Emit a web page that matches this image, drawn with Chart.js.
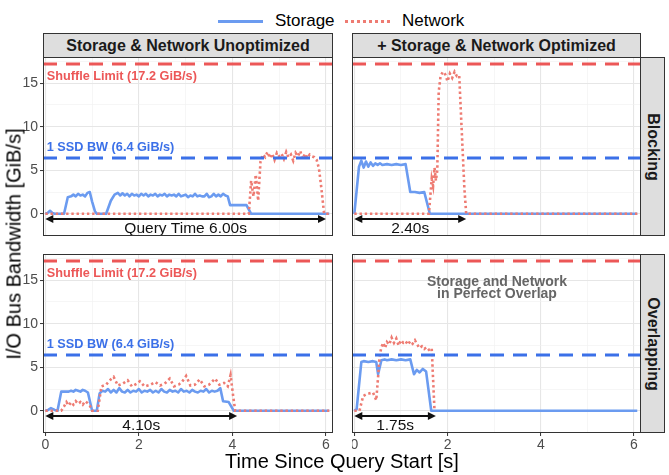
<!DOCTYPE html>
<html>
<head>
<meta charset="utf-8">
<script src="https://cdn.jsdelivr.net/npm/chart.js@4.4.1/dist/chart.umd.min.js"></script>
<style>
  body { margin: 0; background: #fff; font-family: "Liberation Sans", Arial, sans-serif; }
  #fig { position: relative; width: 669px; height: 475px; overflow: hidden; }
  .box { position: absolute; }
  .strip { position: absolute; background: #dedede; border: 1px solid #333; box-sizing: border-box;
           font-weight: bold; font-size: 16px; color: #1a1a1a; text-align: center; }
  .lbl { position: absolute; white-space: nowrap; }
</style>
</head>
<body>
<div id="fig">
  <!-- legend -->
  <div class="lbl" style="left:218px; top:20px; width:45px; border-top:3.5px solid #6b9bf0;"></div>
  <div class="lbl" style="left:275px; top:11px; font-size:17px;">Storage</div>
  <div class="lbl" style="left:345px; top:20px; width:45px; border-top:3px dotted #ee7b72;"></div>
  <div class="lbl" style="left:402px; top:11px; font-size:17px;">Network</div>

  <!-- column strips -->
  <div class="strip" style="left:43px; top:33px; width:290px; height:25px; line-height:23px;">Storage &amp; Network Unoptimized</div>
  <div class="strip" style="left:352px; top:33px; width:289px; height:25px; line-height:23px;">+ Storage &amp; Network Optimized</div>
  <!-- row strips -->
  <div class="strip" style="left:640px; top:57px; width:25px; height:179px;">
    <div style="position:absolute; left:50%; top:50%; transform:translate(-50%,-50%) rotate(90deg);">Blocking</div>
  </div>
  <div class="strip" style="left:640px; top:254px; width:25px; height:179px;">
    <div style="position:absolute; left:50%; top:50%; transform:translate(-50%,-50%) rotate(90deg);">Overlapping</div>
  </div>

  <!-- panels -->
  <div class="box" style="left:18px; top:57px; width:315px; height:179px;"><canvas id="tl"></canvas></div>
  <div class="box" style="left:352px; top:57px; width:289px; height:179px;"><canvas id="tr"></canvas></div>
  <div class="box" style="left:18px; top:254px; width:315px; height:201px;"><canvas id="bl"></canvas></div>
  <div class="box" style="left:352px; top:254px; width:289px; height:201px;"><canvas id="br"></canvas></div>

  <!-- axis titles -->
  <div class="lbl" style="left:342px; top:450px; transform:translateX(-50%); font-size:20px;">Time Since Query Start [s]</div>
  <div class="lbl" style="left:14px; top:244px; transform:translate(-50%,-50%) rotate(-90deg); font-size:20px;">I/O Bus Bandwidth [GiB/s]</div>
</div>

<script>
// reference lines (GiB/s)
const limitValues = [17.2, 6.4];
const limitLabels = ["Shuffle Limit (17.2 GiB/s)", "1 SSD BW (6.4 GiB/s)"];
const limitColors = ["#ec5757", "#3b70e8"];

// query durations per panel (s)
const queryTimes = [6.0, 2.4, 4.1, 1.75];
const queryLabels = ["Query Time 6.00s", "2.40s", "4.10s", "1.75s"];

// [time s, GiB/s]
const storageBlockUnopt = [[0,0],[0.05,0.1],[0.1,0.35],[0.15,0.1],[0.2,0],[0.4,0],[0.48,1.9],[0.55,2.0],[0.6,2.2],[0.65,2.0],[0.7,2.3],[0.75,2.1],[0.8,2.2],[0.85,2.0],[0.9,2.4],[0.95,2.5],[1.0,1.4],[1.06,0.3],[1.1,0],[1.3,0],[1.4,1.5],[1.48,2.2],[1.55,2.4],[1.6,2.1],[1.65,2.35],[1.7,2.1],[1.75,2.3],[1.8,2.0],[1.85,2.3],[1.9,2.1],[1.95,2.2],[2.0,2.0],[2.05,2.3],[2.1,2.1],[2.15,2.3],[2.2,2.0],[2.25,2.2],[2.3,2.1],[2.35,2.3],[2.4,2.0],[2.45,2.2],[2.5,2.1],[2.55,2.3],[2.6,2.0],[2.65,2.2],[2.7,2.1],[2.75,2.2],[2.8,2.0],[2.85,2.3],[2.9,2.0],[2.95,2.1],[3.0,2.2],[3.05,1.9],[3.1,2.1],[3.15,2.0],[3.2,2.3],[3.25,2.0],[3.3,2.1],[3.35,2.0],[3.4,2.0],[3.45,2.3],[3.5,1.9],[3.55,2.0],[3.6,2.3],[3.65,2.0],[3.7,2.2],[3.75,2.0],[3.8,2.3],[3.85,2.1],[3.9,2.0],[3.95,1.0],[4.1,1.0],[4.3,1.0],[4.4,0],[6.07,0]];
const networkBlockUnopt = [[0,0],[4.35,0],[4.4,3.8],[4.45,2.0],[4.5,4.5],[4.55,1.5],[4.6,6.0],[4.65,6.8],[4.7,6.5],[4.75,7.1],[4.8,6.4],[4.85,6.9],[4.9,6.2],[4.95,7.0],[5.0,6.6],[5.05,6.9],[5.1,6.3],[5.15,7.1],[5.2,6.5],[5.25,6.8],[5.3,6.1],[5.35,7.0],[5.4,6.6],[5.45,7.2],[5.5,6.3],[5.55,6.9],[5.6,6.4],[5.65,6.8],[5.7,6.6],[5.75,6.5],[5.8,6.2],[5.85,5.2],[5.9,3.0],[5.96,0],[6.07,0]];

const storageBlockOpt = [[0,0],[0.1,5.4],[0.15,6.1],[0.2,5.3],[0.25,6.0],[0.3,5.4],[0.35,5.9],[0.4,5.5],[0.45,5.8],[0.5,5.6],[0.55,5.8],[0.6,5.6],[0.7,5.7],[0.8,5.6],[0.9,5.7],[1.0,5.6],[1.1,5.7],[1.2,2.5],[1.3,2.5],[1.4,2.4],[1.5,2.5],[1.62,0],[6.07,0]];
const networkBlockOpt = [[0,0],[1.6,0],[1.63,2.0],[1.66,4.0],[1.69,3.2],[1.72,5.3],[1.75,3.8],[1.78,5.0],[1.81,14.0],[1.85,15.8],[1.9,16.3],[1.95,16.0],[2.0,15.2],[2.05,16.1],[2.1,15.6],[2.15,16.3],[2.2,15.8],[2.25,15.9],[2.3,10.0],[2.36,3.0],[2.4,0],[6.07,0]];

const storageOverUnopt = [[0,0],[0.06,0.1],[0.12,0.3],[0.2,0.1],[0.26,0],[0.34,2.2],[0.4,2.2],[0.5,2.2],[0.55,2.3],[0.6,2.2],[0.65,2.4],[0.7,2.3],[0.75,2.2],[0.8,2.4],[0.85,2.3],[0.91,2.1],[1.0,0],[1.1,0],[1.16,2.0],[1.22,2.3],[1.28,2.2],[1.34,2.5],[1.4,2.1],[1.46,2.4],[1.52,2.1],[1.58,2.6],[1.64,2.2],[1.7,2.1],[1.76,2.4],[1.82,2.1],[1.88,2.3],[1.94,2.2],[2.0,2.5],[2.06,2.1],[2.12,2.3],[2.18,2.2],[2.24,2.4],[2.3,2.1],[2.36,2.3],[2.42,2.1],[2.48,2.5],[2.54,2.2],[2.6,2.1],[2.66,2.4],[2.72,2.2],[2.78,2.3],[2.84,2.1],[2.9,2.5],[2.96,2.2],[3.02,2.3],[3.08,2.1],[3.14,2.4],[3.2,2.2],[3.26,2.1],[3.32,2.3],[3.38,2.2],[3.44,2.5],[3.5,2.1],[3.56,2.3],[3.62,2.2],[3.68,2.3],[3.74,2.6],[3.8,1.1],[3.92,1.0],[4.03,0],[6.07,0]];
const networkOverUnopt = [[0,0],[0.34,0],[0.4,0.5],[0.45,1.0],[0.5,0.6],[0.55,1.0],[0.6,0.7],[0.65,1.1],[0.7,0.8],[0.75,1.0],[0.8,0.7],[0.85,1.1],[0.9,0.9],[0.95,0.6],[1.0,0],[1.12,0],[1.2,2.8],[1.3,3.0],[1.38,3.5],[1.46,3.9],[1.55,2.9],[1.65,3.1],[1.76,3.5],[1.85,2.8],[1.95,3.1],[2.02,3.4],[2.12,2.8],[2.25,3.0],[2.35,3.3],[2.45,2.9],[2.55,3.1],[2.66,3.7],[2.75,2.8],[2.85,3.0],[2.92,3.3],[3.01,4.0],[3.1,2.9],[3.2,3.0],[3.3,3.6],[3.4,2.8],[3.5,3.0],[3.63,3.7],[3.72,3.0],[3.82,3.2],[3.9,2.8],[3.96,4.1],[4.02,1.5],[4.06,0],[6.07,0]];

const storageOverOpt = [[0,0],[0.05,0.2],[0.15,5.6],[0.2,5.7],[0.3,5.6],[0.4,5.7],[0.47,5.6],[0.51,4.2],[0.58,5.8],[0.65,5.9],[0.7,5.8],[0.8,5.9],[0.9,5.8],[1.0,5.9],[1.1,5.8],[1.2,5.9],[1.28,4.2],[1.34,4.7],[1.4,4.4],[1.47,4.8],[1.54,4.5],[1.65,0],[6.07,0]];
const networkOverOpt = [[0,0],[0.11,0],[0.19,1.7],[0.26,1.9],[0.33,2.0],[0.4,2.1],[0.47,1.2],[0.51,3.9],[0.54,6.2],[0.58,7.3],[0.62,7.8],[0.66,7.2],[0.7,7.9],[0.75,7.6],[0.8,8.4],[0.85,7.8],[0.9,8.3],[0.95,7.5],[1.0,8.1],[1.05,7.8],[1.1,8.0],[1.15,7.6],[1.2,8.0],[1.25,7.7],[1.3,8.1],[1.35,7.6],[1.4,7.2],[1.45,7.4],[1.5,7.1],[1.55,7.3],[1.6,7.0],[1.66,7.2],[1.72,0]];

const X_MIN = -0.05, X_MAX = 6.15, Y_MIN = -2.55, Y_MAX = 18;
const ARROW_Y = -0.6, ARROW_LABEL_Y = -1.7;
const storageColor = "#6b9bf0", networkColor = "#ee7b72";
const FONT = '"Liberation Sans", Arial, sans-serif';

Chart.defaults.font.family = FONT;

// draws arrows, notes and the panel border
const panelDecor = {
  id: "panelDecor",
  afterDatasetsDraw(chart, args, o) {
    const { ctx, chartArea: a, scales: { x, y } } = chart;
    ctx.save();
    ctx.beginPath();
    ctx.rect(a.left, a.top, a.width, a.height);
    ctx.clip();

    // line labels
    if (o.limitText) {
      ctx.font = "bold 12.7px " + FONT;
      ctx.textAlign = "left";
      ctx.textBaseline = "middle";
      ctx.fillStyle = limitColors[0];
      ctx.fillText(limitLabels[0], x.getPixelForValue(0.03), y.getPixelForValue(15.8));
      ctx.fillStyle = limitColors[1];
      ctx.fillText(limitLabels[1], x.getPixelForValue(0.03), y.getPixelForValue(7.6));
    }
    if (o.note) {
      ctx.font = "bold 14px " + FONT;
      ctx.textAlign = "center";
      ctx.textBaseline = "middle";
      ctx.fillStyle = "#666";
      ctx.fillText(o.note[0], x.getPixelForValue(3.06), y.getPixelForValue(14.8));
      ctx.fillText(o.note[1], x.getPixelForValue(3.06), y.getPixelForValue(13.35));
    }

    // double arrow
    const ay = y.getPixelForValue(ARROW_Y);
    const x0 = x.getPixelForValue(0), x1 = x.getPixelForValue(queryTimes[o.idx]);
    ctx.strokeStyle = "#111";
    ctx.fillStyle = "#111";
    ctx.lineWidth = 2;
    ctx.beginPath();
    ctx.moveTo(x0 + 4, ay);
    ctx.lineTo(x1 - 4, ay);
    ctx.stroke();
    [[x0, 1], [x1, -1]].forEach(([px, d]) => {
      ctx.beginPath();
      ctx.moveTo(px, ay);
      ctx.lineTo(px + d * 8, ay - 4);
      ctx.lineTo(px + d * 8, ay + 4);
      ctx.closePath();
      ctx.fill();
    });
    ctx.font = "15.5px " + FONT;
    ctx.textAlign = "center";
    ctx.textBaseline = "middle";
    ctx.fillText(queryLabels[o.idx], x.getPixelForValue(queryTimes[o.idx] / 2), y.getPixelForValue(ARROW_LABEL_Y));
    ctx.restore();

    ctx.save();
    ctx.strokeStyle = "#333";
    ctx.lineWidth = 1;
    ctx.strokeRect(a.left + 0.5, a.top + 0.5, a.width - 1, a.height - 1);
    ctx.restore();
  }
};

function toXY(arr) {
  return arr.map(p => ({ x: p[0], y: p[1] }));
}

function makePanel(id, idx, storage, network, showX, showY, extra) {
  const datasets = [];
  limitValues.forEach((v, i) => {
    datasets.push({
      data: [{ x: X_MIN, y: v }, { x: X_MAX, y: v }],
      borderColor: limitColors[i],
      borderWidth: 3,
      borderDash: [14, 9],
      pointRadius: 0
    });
  });
  datasets.push({
    label: "Network",
    data: toXY(network),
    borderColor: networkColor,
    borderWidth: 2.6,
    borderDash: [2.4, 2.8],
    pointRadius: 0
  });
  datasets.push({
    label: "Storage",
    data: toXY(storage),
    borderColor: storageColor,
    borderWidth: 2.6,
    borderJoinStyle: "round",
    pointRadius: 0
  });

  const major = "#e6e6e6", minor = "#f0f0f0";
  new Chart(document.getElementById(id), {
    type: "line",
    data: { datasets: datasets },
    plugins: [panelDecor],
    options: {
      responsive: true,
      maintainAspectRatio: false,
      animation: false,
      events: [],
      layout: { padding: 0 },
      plugins: {
        legend: { display: false },
        tooltip: { enabled: false },
        panelDecor: Object.assign({ idx: idx }, extra)
      },
      scales: {
        x: {
          type: "linear",
          min: X_MIN, max: X_MAX,
          border: { display: false },
          ticks: {
            display: showX, stepSize: 1, includeBounds: false, padding: 1,
            color: "#4d4d4d", font: { size: 14 },
            callback: v => (v % 2 === 0 ? String(v) : "")
          },
          grid: {
            drawTicks: showX, tickLength: 3,
            color: c => (c.tick && c.tick.value % 2 === 0 ? major : minor),
            lineWidth: c => (c.tick && c.tick.value % 2 === 0 ? 1.1 : 0.6),
            tickColor: c => (c.tick && c.tick.value % 2 === 0 ? "#333" : "rgba(0,0,0,0)"),
            tickWidth: 1
          },
          afterFit: s => { s.height = showX ? 22 : 0; s.paddingLeft = 0; s.paddingRight = 0; }
        },
        y: {
          type: "linear",
          min: Y_MIN, max: Y_MAX,
          border: { display: false },
          ticks: {
            display: showY, stepSize: 2.5, includeBounds: false, padding: 2,
            color: "#4d4d4d", font: { size: 14 },
            callback: v => (v >= 0 && v % 5 === 0 ? String(v) : "")
          },
          grid: {
            drawTicks: showY, tickLength: 3,
            color: c => (c.tick && c.tick.value % 5 === 0 ? major : minor),
            lineWidth: c => (c.tick && c.tick.value % 5 === 0 ? 1.1 : 0.6),
            tickColor: c => (c.tick && c.tick.value >= 0 && c.tick.value % 5 === 0 ? "#333" : "rgba(0,0,0,0)"),
            tickWidth: 1
          },
          afterFit: s => { s.width = showY ? 25 : 0; s.paddingTop = 0; s.paddingBottom = 0; }
        }
      }
    }
  });
}

makePanel("tl", 0, storageBlockUnopt, networkBlockUnopt, false, true, { limitText: true });
makePanel("tr", 1, storageBlockOpt, networkBlockOpt, false, false, {});
makePanel("bl", 2, storageOverUnopt, networkOverUnopt, true, true, { limitText: true });
makePanel("br", 3, storageOverOpt, networkOverOpt, true, false, { note: ["Storage and Network", "in Perfect Overlap"] });
</script>
</body>
</html>
